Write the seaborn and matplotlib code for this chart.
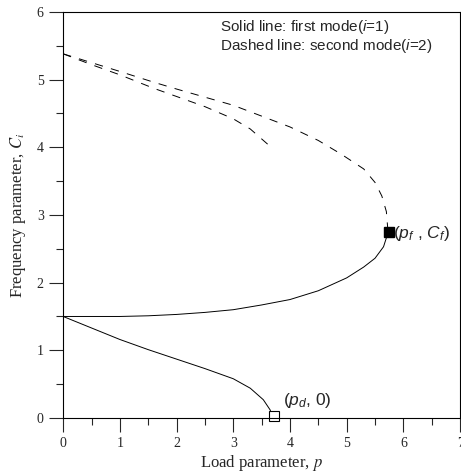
import numpy as np
import pandas as pd
import seaborn as sns
import matplotlib.pyplot as plt

# first mode, upper solid branch (from p=0 up to the flutter point)
p_solid_up = [0.0, 0.5, 1.0, 1.5, 2.0, 2.5, 3.0, 3.5, 4.0, 4.5, 5.0, 5.3, 5.5, 5.65, 5.73]
c_solid_up = [1.50, 1.50, 1.50, 1.51, 1.53, 1.56, 1.60, 1.67, 1.75, 1.88, 2.07, 2.23, 2.36, 2.53, 2.74]

# first mode, lower solid branch (down to divergence point)
p_solid_low = [0.0, 0.5, 1.0, 1.5, 2.0, 2.5, 3.0, 3.3, 3.53, 3.65, 3.70]
c_solid_low = [1.50, 1.33, 1.16, 1.01, 0.87, 0.73, 0.58, 0.44, 0.27, 0.12, 0.0]

# second mode, dashed branch joining the flutter point
p_dash_up = [0.0, 0.5, 1.0, 1.6, 2.0, 2.5, 3.0, 3.5, 4.0, 4.5, 4.9, 5.3, 5.5, 5.62, 5.70, 5.73]
c_dash_up = [5.38, 5.25, 5.12, 4.96, 4.86, 4.74, 4.62, 4.46, 4.30, 4.10, 3.90, 3.68, 3.48, 3.28, 3.05, 2.74]

# second mode, short dashed branch
p_dash_low = [0.0, 0.5, 1.0, 1.6, 2.0, 2.5, 3.0, 3.3, 3.6, 3.68]
c_dash_low = [5.38, 5.22, 5.07, 4.87, 4.75, 4.60, 4.42, 4.27, 4.05, 3.98]

flutter_pt = (5.74, 2.75)
diverg_pt = (3.72, 0.03)

x_ticks = [0, 1, 2, 3, 4, 5, 6, 7]
y_ticks = [0, 1, 2, 3, 4, 5, 6]

sns.set_style("ticks")
plt.rcParams['lines.scale_dashes'] = False
plt.rcParams['mathtext.fontset'] = 'custom'
plt.rcParams['mathtext.rm'] = 'Liberation Sans'
plt.rcParams['mathtext.it'] = 'Liberation Sans:italic'

fig = plt.figure(figsize=(4.61, 4.75), dpi=100)
ax = fig.add_axes([0.137, 0.12, 0.861, 0.855])

branches = [
    (p_solid_up, c_solid_up, '-'),
    (p_solid_low, c_solid_low, '-'),
    (p_dash_up, c_dash_up, (0, (6, 6))),
    (p_dash_low, c_dash_low, (0, (6, 6))),
]
for px, cy, ls in branches:
    df = pd.DataFrame({'p': px, 'C': cy})
    sns.lineplot(data=df, x='p', y='C', sort=False, ax=ax, color='black',
                 linewidth=0.7, linestyle=ls, estimator=None)

ax.plot(*flutter_pt, marker='s', markersize=7.5, color='black', clip_on=False)
ax.plot(*diverg_pt, marker='s', markersize=7, markerfacecolor='white',
        markeredgecolor='black', markeredgewidth=0.8, clip_on=False)

ax.text(5.82, 2.73, r'($p_f$ , $C_f$)', fontsize=12.5, family='Liberation Sans',
        va='center', ha='left')
ax.text(3.87, 0.26, r'($p_d$, 0)', fontsize=12.5, family='Liberation Sans',
        va='center', ha='left')
ax.text(2.77, 5.78, r'Solid line: first mode($i$=1)', fontsize=11,
        family='Liberation Sans', va='center', ha='left')
ax.text(2.77, 5.49, r'Dashed line: second mode($i$=2)', fontsize=11,
        family='Liberation Sans', va='center', ha='left')

ax.set_xlim(0, 7)
ax.set_ylim(0, 6)
ax.set_xticks(x_ticks)
ax.set_yticks(y_ticks)
ax.set_xticks(np.arange(0.5, 7, 1.0), minor=True)
ax.set_yticks(np.arange(0.5, 6, 1.0), minor=True)
ax.tick_params(which='major', direction='out', length=10, width=0.8,
               labelsize=10, pad=4)
ax.tick_params(which='minor', direction='out', length=5, width=0.8)
for lbl in ax.get_xticklabels() + ax.get_yticklabels():
    lbl.set_family('Liberation Serif')

ax.set_xlabel(r'Load parameter, $p$', family='Liberation Serif', fontsize=12,
              math_fontfamily='stix', labelpad=2)
ax.set_ylabel(r'Frequency parameter, $C_i$', family='Liberation Serif',
              fontsize=12, math_fontfamily='stix', labelpad=6)

for side in ['top', 'right', 'left', 'bottom']:
    ax.spines[side].set_visible(True)
    ax.spines[side].set_linewidth(0.8)
    ax.spines[side].set_color('black')

fig.savefig('out.png', dpi=100)
